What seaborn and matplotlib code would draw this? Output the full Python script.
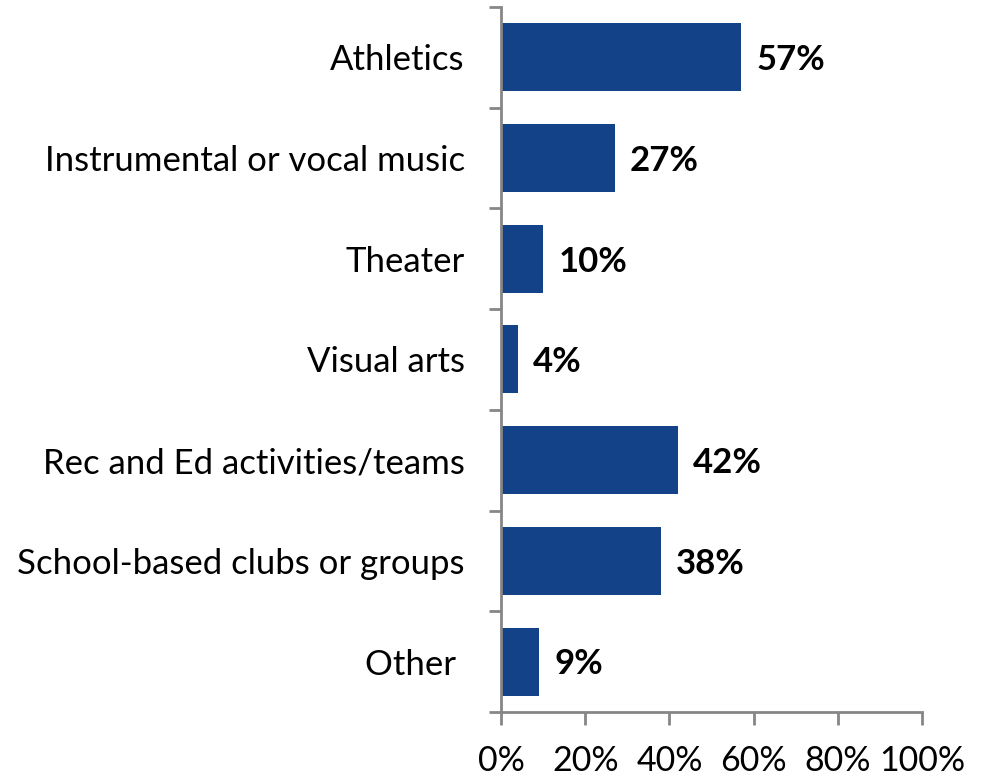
import pandas as pd
import numpy as np
import matplotlib
matplotlib.use("Agg")
import matplotlib.pyplot as plt
import seaborn as sns

# Chart data
categories = ["Athletics", "Instrumental or vocal music", "Theater", "Visual arts",
              "Rec and Ed activities/teams", "School-based clubs or groups", "Other "]
values = [57, 27, 10, 4, 42, 38, 9]
x_ticks = [0, 20, 40, 60, 80, 100]
x_tick_labels = ["0%", "20%", "40%", "60%", "80%", "100%"]

df = pd.DataFrame({"activity": categories, "pct": values})

sns.set_style("white")
plt.rcParams["font.family"] = ["Lato", "DejaVu Sans"]

fig = plt.figure(figsize=(9.81, 7.76), dpi=100)
ax = fig.add_axes([0.5107, 0.0825, 0.4292, 0.9085])

sns.barplot(data=df, x="pct", y="activity", orient="h", color="#144288",
            saturation=1, width=0.675, linewidth=0, ax=ax)

ax.set_xlim(0, 100)
ax.set_ylim(len(categories) - 0.5, -0.5)
ax.set_xlabel("")
ax.set_ylabel("")

# value labels
for i, v in enumerate(values):
    ax.annotate(f"{v}%", (v, i), xytext=(11, -2), textcoords="offset points",
                va="center", ha="left", fontsize=25, fontweight="bold", color="black")

# axes styling
grey = "#868686"
for side in ["top", "right"]:
    ax.spines[side].set_visible(False)
for side in ["left", "bottom"]:
    ax.spines[side].set_color(grey)
    ax.spines[side].set_linewidth(2)

ax.set_xticks(x_ticks)
ax.set_xticklabels(x_tick_labels, fontsize=24.5, color="black")
ax.tick_params(axis="x", which="major", length=9, width=2, color=grey,
               direction="out", pad=15, bottom=True)

ax.set_yticks(range(len(categories)))
ax.set_yticklabels(categories, fontsize=25, color="black")
ax.tick_params(axis="y", which="major", length=0, pad=26)
ax.set_yticks(np.arange(-0.5, len(categories), 1), minor=True)
ax.tick_params(axis="y", which="minor", length=9, width=2, color=grey,
               direction="out", left=True)

fig.savefig("out.png", dpi=100)
